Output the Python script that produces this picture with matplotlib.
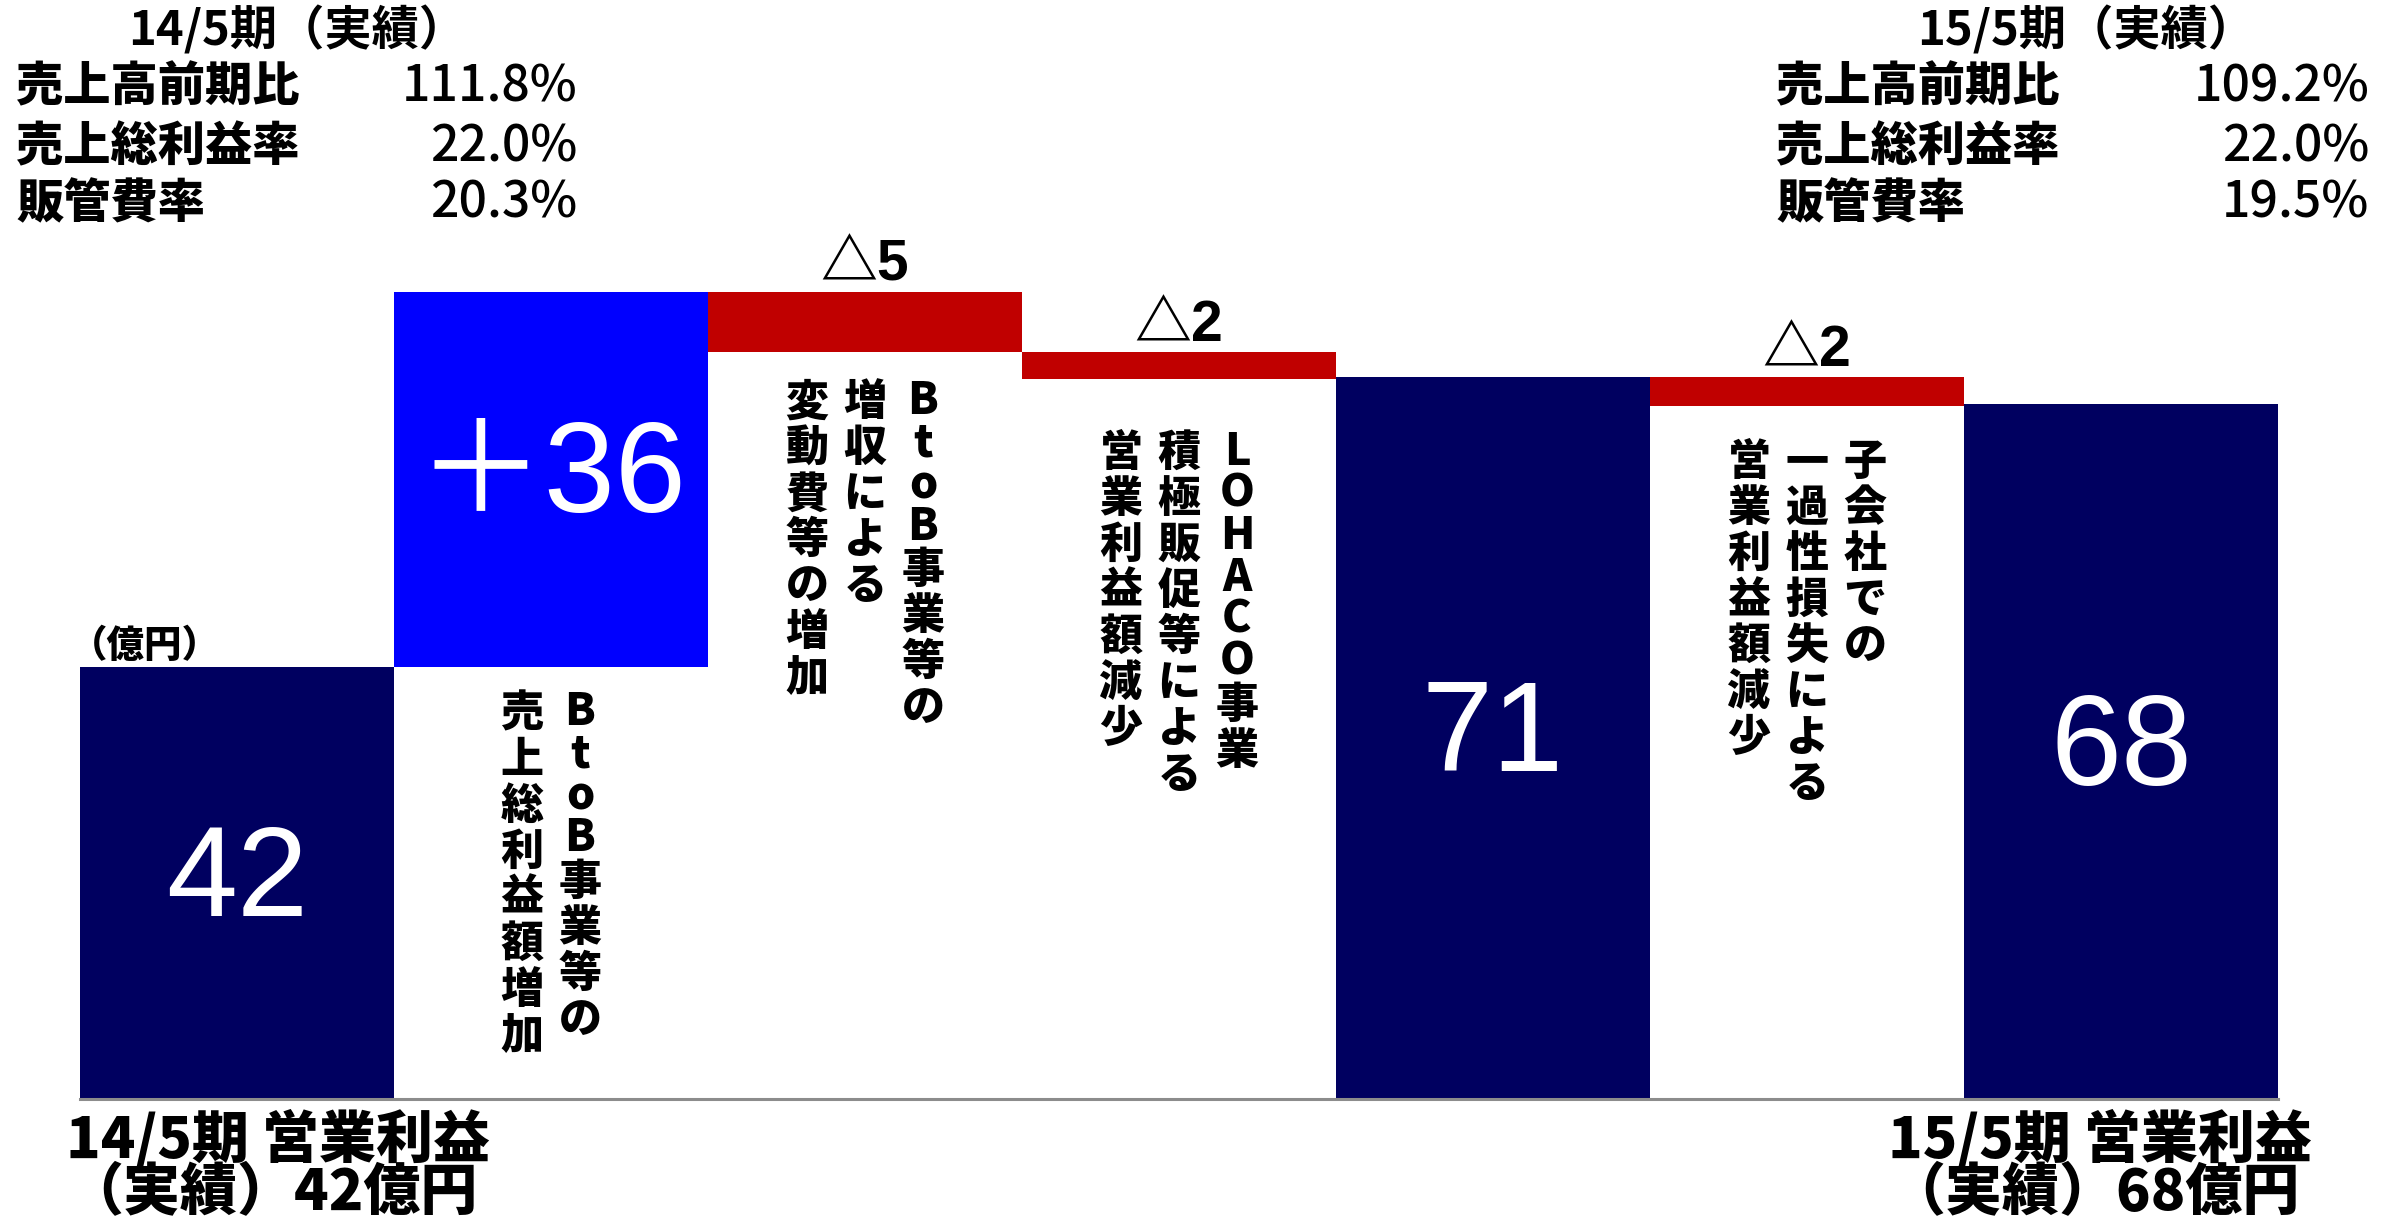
import matplotlib
matplotlib.use("Agg")
import matplotlib.pyplot as plt

# ---------------- data ----------------
steps = ["14/5期", "BtoB売上総利益", "BtoB変動費", "LOHACO販促", "中間", "子会社損失", "15/5期"]
kinds = ["total", "up", "down", "down", "total", "down", "total"]
values = [42.5, 36.9, -5.9, -2.7, 71.0, -2.9, 68.3]
bar_labels = ["42", "＋36", "△5", "△2", "71", "△2", "68"]

# vertical annotation columns (right-most column first)
notes = {
    1: ["BtoB事業等の", "売上総利益額増加"],
    2: ["BtoB事業等の", "増収による", "変動費等の増加"],
    3: ["LOHACO事業", "積極販促等による", "営業利益額減少"],
    5: ["子会社での", "一過性損失による", "営業利益額減少"],
}

left_title = "14/5期（実績）"
right_title = "15/5期（実績）"
kpi_names = ["売上高前期比", "売上総利益率", "販管費率"]
kpi_left = ["111.8%", "22.0%", "20.3%"]
kpi_right = ["109.2%", "22.0%", "19.5%"]
unit_label = "（億円）"
bottom_left = ["14/5期 営業利益", "（実績）42億円"]
bottom_right = ["15/5期 営業利益", "（実績）68億円"]

# ---------------- style ----------------
W, H, DPI = 2400, 1226, 100
NAVY, BLUE, RED = "#000060", "#0000FF", "#C00000"
CJK = ["Noto Sans CJK JP", "DejaVu Sans"]
LAT = ["Liberation Sans", "Noto Sans CJK JP", "DejaVu Sans"]
PX = 72.0 / DPI  # points per pixel

fig = plt.figure(figsize=(W / DPI, H / DPI), dpi=DPI)
fig.patch.set_facecolor("white")

base_px = 1099
px_per_unit = 10.169
ax = fig.add_axes([80 / W, 1 - base_px / H, 2198 / W, base_px / H])
ax.set_xlim(-0.5, len(values) - 0.5)
ax.set_ylim(0, base_px / px_per_unit)
ax.axis("off")

# waterfall geometry
bottoms, heights, colors = [], [], []
running = 0.0
for k, v in zip(kinds, values):
    if k == "total":
        bottoms.append(0.0); heights.append(v); colors.append(NAVY)
        running = v
    else:
        if v >= 0:
            bottoms.append(running); heights.append(v); colors.append(BLUE)
        else:
            bottoms.append(running + v); heights.append(-v); colors.append(RED)
        running += v

xs = list(range(len(values)))
ax.bar(xs, heights, bottom=bottoms, width=1.0, color=colors, linewidth=0)
ax.axhline(0, color="#8c8c8c", lw=2.2, clip_on=False)

# labels on / above bars
for i, (k, v) in enumerate(zip(kinds, values)):
    if k == "down":
        ax.annotate(bar_labels[i], xy=(i, bottoms[i] + heights[i]), xytext=(0, 11 * PX),
                    textcoords="offset points", ha="center", va="baseline",
                    fontsize=41, family=LAT, weight="bold", color="black")
    else:
        ax.text(i, bottoms[i] + heights[i] / 2, bar_labels[i], ha="center", va="center",
                fontsize=92, family=LAT, color="white")

# vertical text columns under the change bars (stacked characters)
col_pitch = 58       # px between columns
gaps = {1: 24, 2: 28, 3: 51, 5: 33}  # px gap from bar bottom to text top
cjk_pitch, lat_pitch = 46, 42
for i, cols in notes.items():
    n = len(cols)
    for c, text in enumerate(cols):
        dx_px = ((n - 1) / 2 - c) * col_pitch
        y = gaps[i]
        for ch in text:
            lat = ch.isascii()
            p = lat_pitch if lat else cjk_pitch
            ax.annotate(ch, xy=(i, bottoms[i]), xytext=(dx_px * PX, -(y + p / 2) * PX),
                        textcoords="offset points", ha="center", va="center",
                        fontsize=32 if lat else 31, family=CJK, weight="heavy",
                        color="black")
            y += p


def ft(x, y, s, **kw):
    fig.text(x / W, 1 - y / H, s, **kw)


# top KPI blocks
ft(297, 31, left_title, ha="center", va="center", fontsize=34, family=CJK, weight="bold")
ft(2086, 31, right_title, ha="center", va="center", fontsize=34, family=CJK, weight="bold")
row_y = [87, 147, 204]
for yy, name, vl, vr in zip(row_y, kpi_names, kpi_left, kpi_right):
    ft(16, yy, name, ha="left", va="center", fontsize=34, family=CJK, weight="heavy")
    ft(577, yy, vl, ha="right", va="center", fontsize=36, family=CJK, weight="medium")
    ft(1776, yy, name, ha="left", va="center", fontsize=34, family=CJK, weight="heavy")
    ft(2369, yy, vr, ha="right", va="center", fontsize=36, family=CJK, weight="medium")

ft(70, 646, unit_label, ha="left", va="center", fontsize=27, family=CJK, weight="heavy")

for yy, a, b in zip([1140, 1194], bottom_left, bottom_right):
    ft(66, yy, a, ha="left", va="center", fontsize=41, family=CJK, weight="heavy")
    ft(1888, yy, b, ha="left", va="center", fontsize=41, family=CJK, weight="heavy")

fig.savefig("out.png", dpi=DPI, facecolor="white")
